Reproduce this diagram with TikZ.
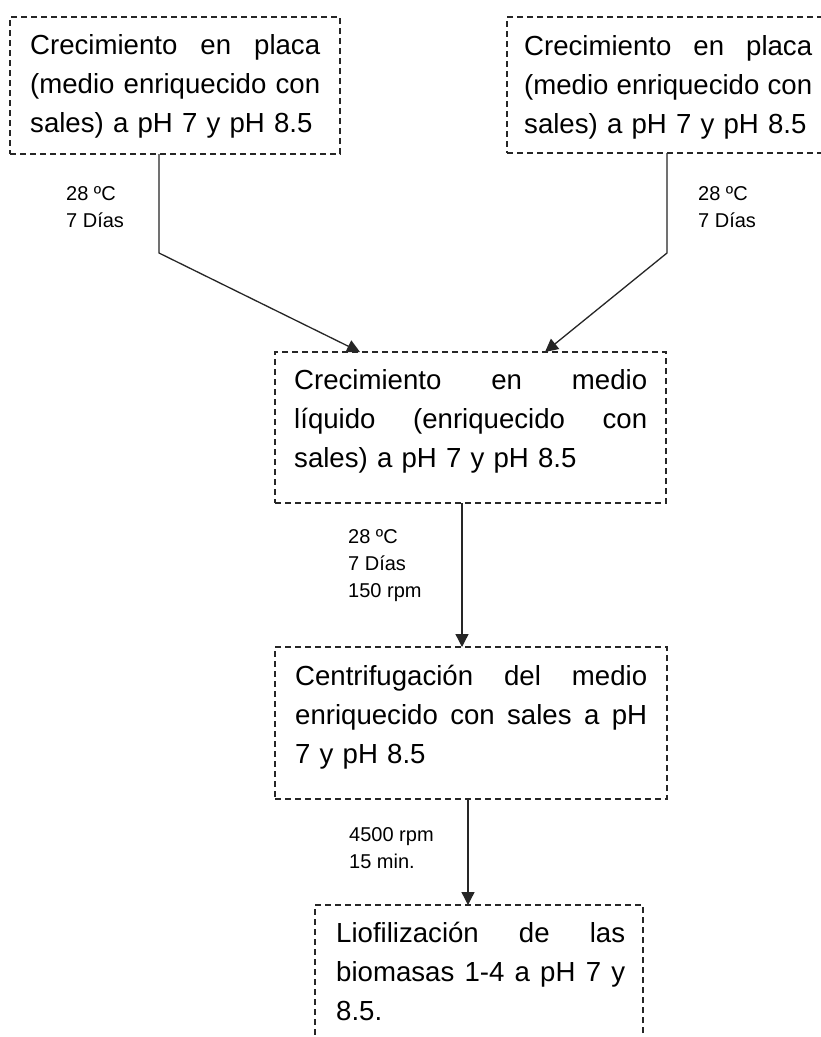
\documentclass[tikz,border=0pt]{standalone}
\usepackage{fontspec}
\setmainfont{Liberation Sans}
\usetikzlibrary{arrows.meta}
% a line of box text whose words are spread over the given width
\newcommand{\jline}[2]{\leavevmode\hbox to #1{#2}}
\begin{document}
\begin{tikzpicture}[x=1pt,y=-1pt,
  stage/.style={draw=black!85, line width=1.1pt, dash pattern=on 6pt off 4pt,
    rectangle, inner sep=0pt, outer sep=0pt, anchor=north west},
  boxtext/.style={inner sep=0pt, anchor=north west, align=left,
    font=\fontsize{27.6}{39}\selectfont},
  cond/.style={inner sep=0pt, anchor=north west, align=left,
    font=\fontsize{20}{27}\selectfont},
  flow/.style={draw=black!85, line width=1.3pt,
    -{Triangle[length=13pt,width=13pt]}}]
\clip (0,0) rectangle (821,1037);
\fill[white] (0,0) rectangle (821,1037);

% process boxes
\node[stage, minimum width=330pt, minimum height=137pt] (b1) at (10,17) {};
\node[stage, minimum width=330pt, minimum height=136pt] (br) at (507,17) {};
\node[stage, minimum width=391pt, minimum height=151pt] (b2) at (275,352) {};
\node[stage, minimum width=392pt, minimum height=152pt] (b3) at (275,647) {};
\node[stage, minimum width=328pt, minimum height=170pt] (b4) at (315,905) {};

% box texts
\node[boxtext, text width=295pt] (t1) at (30,32.5) {\rule{0pt}{22pt}\jline{290pt}{Crecimiento\hfill en\hfill placa}\\
  \jline{290pt}{(medio\hfill enriquecido\hfill con}\\ sales) a pH 7 y pH 8.5};
\node[boxtext, text width=293pt] (tr) at (524,33) {\rule{0pt}{22pt}\jline{288pt}{Crecimiento\hfill en\hfill placa}\\
  \jline{288pt}{(medio\hfill enriquecido\hfill con}\\ sales) a pH 7 y pH 8.5};
\node[boxtext, text width=358pt] (t2) at (294,367) {\rule{0pt}{22pt}\jline{353pt}{Crecimiento\hfill en\hfill medio}\\
  \jline{353pt}{líquido\hfill (enriquecido\hfill con}\\ sales) a pH 7 y pH 8.5};
\node[boxtext, text width=357pt] (t3) at (295,663) {\rule{0pt}{22pt}\jline{352pt}{Centrifugación\hfill del\hfill medio}\\
  \jline{352pt}{enriquecido\hfill con\hfill sales\hfill a\hfill pH}\\ 7 y pH 8.5};
\node[boxtext, text width=294pt] (t4) at (336,920) {\rule{0pt}{22pt}\jline{289pt}{Liofilización\hfill de\hfill las}\\
  \jline{289pt}{biomasas\hfill 1-4\hfill a\hfill pH\hfill 7\hfill y}\\ 8.5.};

% incubation conditions
\node[cond] (l1) at (66,185) {\rule{0pt}{15pt}28 ºC\\ 7 Días};
\node[cond] (lr) at (698,185) {\rule{0pt}{15pt}28 ºC\\ 7 Días};
\node[cond] (l2) at (348,528) {\rule{0pt}{15pt}28 ºC\\ 7 Días\\ 150 rpm};
\node[cond] (l3) at (349,826) {\rule{0pt}{15pt}4500 rpm\\ 15 min.};

% connectors
\coordinate (k1) at (159,253);
\coordinate (e1) at (360,0);
\coordinate (kr) at (667,253);
\coordinate (er) at (545,0);
\coordinate (c2) at (462,0);
\coordinate (c3) at (468,0);
\draw[flow] (b1.south -| k1) -- (k1) -- (b2.north -| e1);
\draw[flow] (br.south -| kr) -- (kr) -- (b2.north -| er);
\draw[flow] (b2.south -| c2) -- (b3.north -| c2);
\draw[flow] (b3.south -| c3) -- (b4.north -| c3);
\end{tikzpicture}
\end{document}
